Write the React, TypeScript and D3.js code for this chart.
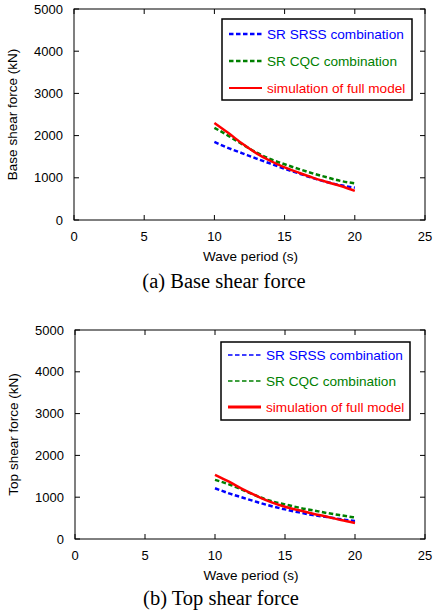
import React from 'react';
import * as d3 from 'd3';

// wave period (s)
const periods = [10, 11, 12, 13, 14, 15, 16, 17, 18, 19, 20];

// (a) base shear force (kN)
const baseSrss = [1850, 1705, 1580, 1455, 1335, 1215, 1105, 995, 900, 822, 766];
const baseCqc = [2185, 1995, 1790, 1600, 1440, 1320, 1210, 1105, 1012, 925, 870];
const baseFull = [2300, 2060, 1805, 1580, 1398, 1248, 1122, 1003, 900, 806, 690];

// (b) top shear force (kN)
const topSrss = [1215, 1092, 988, 884, 789, 709, 637, 573, 526, 470, 430];
const topCqc = [1415, 1307, 1171, 1028, 908, 829, 749, 686, 621, 566, 515];
const topFull = [1535, 1370, 1187, 1028, 884, 772, 686, 605, 533, 454, 382];

const xTicks = [0, 5, 10, 15, 20, 25];
const yTicks = [0, 1000, 2000, 3000, 4000, 5000];
const legendLabels = ['SR SRSS combination', 'SR CQC combination', 'simulation of full model'];

const BLUE = '#0000ff';
const GREEN = '#008000';
const RED = '#ff0000';
const SANS = '"Liberation Sans", Arial, sans-serif';
const SERIF = '"Liberation Serif", "Times New Roman", serif';

type PanelProps = {
  left: number; right: number; top: number; bottom: number;
  yLabel: string; caption: string; captionX: number; captionY: number;
  srss: number[]; cqc: number[]; full: number[];
  legend: { x0: number; x1: number; y0: number; y1: number; rows: number[]; dashW: number; redW: number };
};

const Panel = (p: PanelProps) => {
  const x = d3.scaleLinear().domain([0, 25]).range([p.left, p.right]);
  const y = d3.scaleLinear().domain([0, 5000]).range([p.bottom, p.top]);
  const line = d3.line<number>()
    .x((_, i) => x(periods[i]))
    .y(d => y(d))
    .curve(d3.curveMonotoneX);

  const series = [
    { values: p.srss, color: BLUE, dash: '4.5,2.5', w: 2.5 },
    { values: p.cqc, color: GREEN, dash: '4.5,2.5', w: 2.5 },
    { values: p.full, color: RED, dash: null, w: 2.5 },
  ];
  const tk = 5;
  const lg = p.legend;

  return (
    <g>
      {/* ticks on all four sides, pointing inward */}
      {xTicks.map(t => (
        <g key={'x' + t}>
          <line x1={x(t)} x2={x(t)} y1={p.bottom} y2={p.bottom - tk} stroke="#000" />
          <line x1={x(t)} x2={x(t)} y1={p.top} y2={p.top + tk} stroke="#000" />
          <text x={x(t)} y={p.bottom + 21} textAnchor="middle" fontSize={13} fontFamily={SANS}>{t}</text>
        </g>
      ))}
      {yTicks.map(t => (
        <g key={'y' + t}>
          <line x1={p.left} x2={p.left + tk} y1={y(t)} y2={y(t)} stroke="#000" />
          <line x1={p.right} x2={p.right - tk} y1={y(t)} y2={y(t)} stroke="#000" />
          <text x={p.left - 11} y={y(t) + 4.5} textAnchor="end" fontSize={13} fontFamily={SANS}>{t}</text>
        </g>
      ))}
      <rect x={p.left} y={p.top} width={p.right - p.left} height={p.bottom - p.top} fill="none" stroke="#000" />

      {series.map((s, i) => (
        <path key={i} d={line(s.values) || ''} fill="none" stroke={s.color} strokeWidth={s.w}
          strokeDasharray={s.dash || undefined} />
      ))}

      {/* legend */}
      <rect x={lg.x0} y={lg.y0} width={lg.x1 - lg.x0} height={lg.y1 - lg.y0} fill="#fff" stroke="#000" strokeWidth={1.5} />
      {series.map((s, i) => (
        <g key={'l' + i}>
          <line x1={lg.x0 + 7} x2={lg.x0 + 40} y1={lg.rows[i]} y2={lg.rows[i]} stroke={s.color}
            strokeWidth={s.dash ? lg.dashW : lg.redW} strokeDasharray={s.dash || undefined} />
          <text x={lg.x0 + 45} y={lg.rows[i] + 4.5} fontSize={13.6} fontFamily={SANS} fill={s.color}>{legendLabels[i]}</text>
        </g>
      ))}

      <text x={(p.left + p.right) / 2 + 1} y={p.bottom + 41} textAnchor="middle" fontSize={13.5} fontFamily={SANS}>Wave period (s)</text>
      <text transform={`translate(${p.left - 57},${(p.top + p.bottom) / 2}) rotate(-90)`} textAnchor="middle"
        fontSize={13.5} fontFamily={SANS}>{p.yLabel}</text>
      <text x={p.captionX} y={p.captionY} textAnchor="middle" fontSize={20.5} fontFamily={SERIF}>{p.caption}</text>
    </g>
  );
};

export default function App() {
  return (
    <svg width={434} height={615} style={{ position: 'absolute', left: 0, top: 0, background: '#fff' }}>
      <Panel left={74} right={425} top={9} bottom={220}
        yLabel="Base shear force (kN)" caption="(a) Base shear force" captionX={224} captionY={288}
        srss={baseSrss} cqc={baseCqc} full={baseFull}
        legend={{ x0: 222, x1: 412, y0: 19, y1: 100, rows: [34, 61, 88], dashW: 2.5, redW: 2 }} />
      <Panel left={75} right={425} top={330} bottom={539}
        yLabel="Top shear force (kN)" caption="(b) Top shear force" captionX={221} captionY={605}
        srss={topSrss} cqc={topCqc} full={topFull}
        legend={{ x0: 221, x1: 410, y0: 342, y1: 420, rows: [355, 381, 407], dashW: 1.5, redW: 3 }} />
    </svg>
  );
}
